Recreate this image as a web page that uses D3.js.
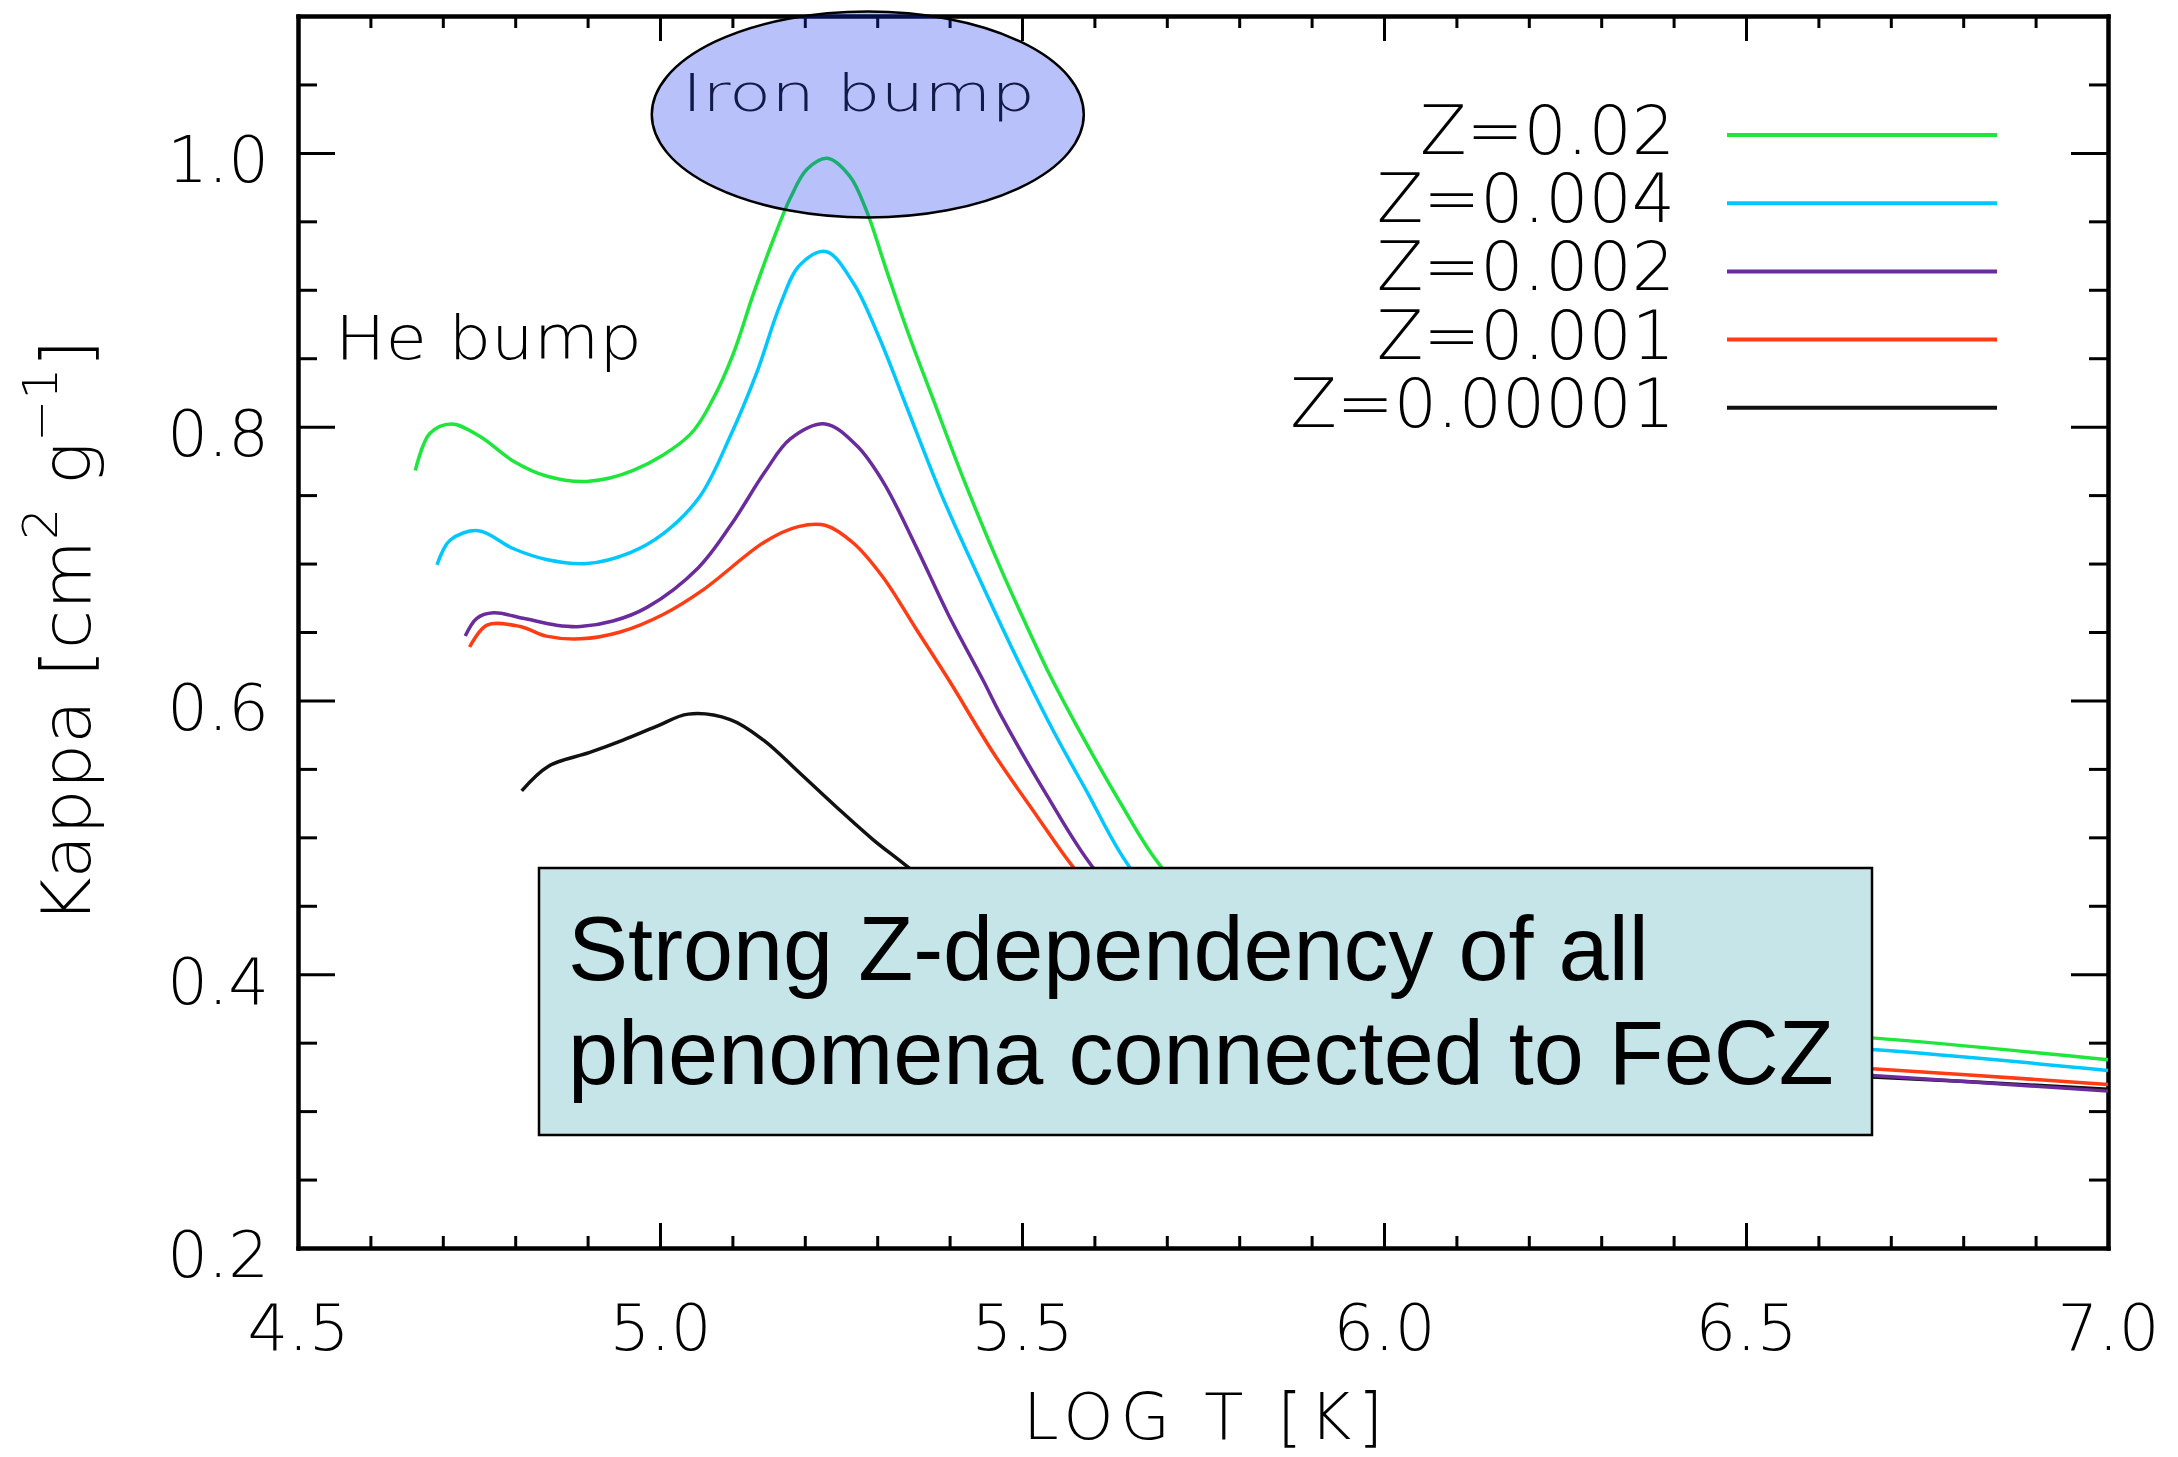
<!DOCTYPE html>
<html>

<head>
    <meta charset="utf-8">
    <style>
        body {
            margin: 0;
            background: #fff;
        }

        svg {
            display: block;
        }

        .axis line {
            stroke: #000;
            stroke-width: 3px;
        }

        .axis .domain {
            stroke: #000;
            stroke-width: 4px;
            stroke-linecap: square;
        }

        .plot-text {
            font-family: 'DejaVu Sans', sans-serif;
            font-weight: 200;
        }
    </style>
</head>

<body>
    <svg width="2178" height="1457"></svg>

    <script src="https://cdn.jsdelivr.net/npm/d3@7"></script>

    <script>
        // values: [log T, kappa]
        let zLabels = ["Z=0.02", "Z=0.004", "Z=0.002", "Z=0.001", "Z=0.00001"]
        let lineColors = ["#1ee63c", "#00c8ff", "#6a2c9c", "#ff3c14", "#111111"]

        let kappaZ02 = [[4.662, 0.768], [4.682, 0.795], [4.712, 0.802], [4.751, 0.793], [4.797, 0.775], [4.843, 0.764],
            [4.899, 0.760], [4.963, 0.768], [5.041, 0.794], [5.074, 0.821], [5.101, 0.853], [5.129, 0.897], [5.156, 0.936],
            [5.180, 0.967], [5.203, 0.988], [5.231, 0.996], [5.262, 0.983], [5.285, 0.958], [5.313, 0.914], [5.341, 0.871],
            [5.378, 0.819], [5.419, 0.762], [5.470, 0.697], [5.506, 0.655], [5.539, 0.618], [5.575, 0.582], [5.635, 0.526],
            [5.693, 0.478], [5.8, 0.425], [5.95, 0.39], [6.15, 0.372], [6.4, 0.362], [6.674, 0.3535], [7.0, 0.3375]]

        let kappaZ004 = [[4.692, 0.699], [4.710, 0.717], [4.749, 0.724], [4.797, 0.711], [4.843, 0.703], [4.899, 0.700],
            [4.959, 0.708], [5.005, 0.722], [5.055, 0.749], [5.097, 0.793], [5.134, 0.840], [5.166, 0.889], [5.193, 0.918],
            [5.229, 0.928], [5.267, 0.905], [5.302, 0.866], [5.341, 0.814], [5.389, 0.750], [5.449, 0.680], [5.501, 0.622],
            [5.545, 0.576], [5.589, 0.534], [5.649, 0.478], [5.75, 0.42], [5.9, 0.385], [6.1, 0.365], [6.4, 0.352],
            [6.674, 0.345], [7.0, 0.3297]]

        let kappaZ002 = [[4.731, 0.647], [4.747, 0.660], [4.770, 0.664], [4.811, 0.660], [4.857, 0.655], [4.890, 0.654],
            [4.935, 0.658], [4.982, 0.668], [5.053, 0.697], [5.099, 0.729], [5.145, 0.767], [5.180, 0.791], [5.228, 0.802],
            [5.272, 0.786], [5.309, 0.759], [5.354, 0.712], [5.398, 0.663], [5.447, 0.614], [5.470, 0.590], [5.534, 0.531],
            [5.598, 0.478], [5.7, 0.42], [5.85, 0.38], [6.05, 0.352], [6.35, 0.336], [6.674, 0.326], [7.0, 0.3146]]

        let kappaZ001 = [[4.737, 0.639], [4.761, 0.655], [4.807, 0.654], [4.843, 0.647], [4.890, 0.645], [4.945, 0.650],
            [5.005, 0.663], [5.060, 0.681], [5.145, 0.716], [5.191, 0.727], [5.228, 0.728], [5.267, 0.715], [5.308, 0.690],
            [5.354, 0.652], [5.400, 0.614], [5.460, 0.562], [5.520, 0.516], [5.571, 0.478], [5.65, 0.43], [5.8, 0.385],
            [6.0, 0.356], [6.3, 0.342], [6.674, 0.331], [7.0, 0.3195]]

        let kappaZ00001 = [[4.809, 0.534], [4.846, 0.552], [4.903, 0.562], [4.949, 0.571], [4.995, 0.581], [5.039, 0.590],
            [5.097, 0.586], [5.143, 0.571], [5.193, 0.547], [5.244, 0.522], [5.295, 0.498], [5.343, 0.478], [5.45, 0.43],
            [5.6, 0.385], [5.8, 0.355], [6.1, 0.338], [6.4, 0.330], [6.674, 0.325], [7.0, 0.316]]

        let xTicks = [4.5, 5.0, 5.5, 6.0, 6.5, 7.0]
        let xTickLabels = ["4.5", "5.0", "5.5", "6.0", "6.5", "7.0"]
        let yTicks = [0.2, 0.4, 0.6, 0.8, 1.0]
        let yTickLabels = ["0.2", "0.4", "0.6", "0.8", "1.0"]

        let series = [kappaZ02, kappaZ004, kappaZ002, kappaZ001, kappaZ00001]

        let width = 2178
        let height = 1457
        let margin = { top: 16, right: 70, bottom: 209, left: 298 }

        let svg = d3.select("svg")

        let x = d3.scaleLinear()
            .domain([4.5, 7.0])
            .range([margin.left, width - margin.right])

        let y = d3.scaleLinear()
            .domain([0.2, 1.1])
            .range([height - margin.bottom, margin.top])

        // minor ticks every 0.1 in x and 0.05 in y
        let xMinor = d3.range(0, 26).filter(i => i % 5 != 0).map(i => 4.5 + i * 0.1)
        let yMinor = d3.range(0, 19).filter(i => i % 4 != 0).map(i => 0.2 + i * 0.05)

        let fontStack = "'DejaVu Sans', sans-serif"

        // bottom axis, ticks point inward
        svg.append("g")
            .attr("class", "axis")
            .attr("transform", `translate(0,${y(0.2)})`)
            .call(d3.axisBottom(x).tickValues(xTicks).tickSize(-25).tickSizeOuter(0).tickPadding(57)
                .tickFormat((d, i) => xTickLabels[i]))
            .attr("font-size", 64)
            .attr("font-family", fontStack)
            .attr("font-weight", 200)

        svg.append("g")
            .attr("class", "axis")
            .attr("transform", `translate(0,${y(0.2)})`)
            .call(d3.axisBottom(x).tickValues(xMinor).tickSize(-12).tickSizeOuter(0).tickFormat(""))

        // top mirror
        svg.append("g")
            .attr("class", "axis")
            .attr("transform", `translate(0,${y(1.1)})`)
            .call(d3.axisTop(x).tickValues(xTicks).tickSize(-25).tickSizeOuter(0).tickFormat(""))

        svg.append("g")
            .attr("class", "axis")
            .attr("transform", `translate(0,${y(1.1)})`)
            .call(d3.axisTop(x).tickValues(xMinor).tickSize(-12).tickSizeOuter(0).tickFormat(""))

        // left axis
        let yAxisLeft = svg.append("g")
            .attr("class", "axis")
            .attr("transform", `translate(${x(4.5)},0)`)
            .call(d3.axisLeft(y).tickValues(yTicks).tickSize(-37).tickSizeOuter(0).tickPadding(29)
                .tickFormat((d, i) => yTickLabels[i]))
            .attr("font-size", 64)
            .attr("font-family", fontStack)
            .attr("font-weight", 200)

        yAxisLeft.selectAll("text").attr("dy", "0.45em")

        svg.append("g")
            .attr("class", "axis")
            .attr("transform", `translate(${x(4.5)},0)`)
            .call(d3.axisLeft(y).tickValues(yMinor).tickSize(-19).tickSizeOuter(0).tickFormat(""))

        // right mirror
        svg.append("g")
            .attr("class", "axis")
            .attr("transform", `translate(${x(7.0)},0)`)
            .call(d3.axisRight(y).tickValues(yTicks).tickSize(-37).tickSizeOuter(0).tickFormat(""))

        svg.append("g")
            .attr("class", "axis")
            .attr("transform", `translate(${x(7.0)},0)`)
            .call(d3.axisRight(y).tickValues(yMinor).tickSize(-19).tickSizeOuter(0).tickFormat(""))

        // axis titles
        svg.append("text")
            .attr("class", "plot-text")
            .attr("x", (x(4.5) + x(7.0)) / 2)
            .attr("y", 1439)
            .attr("text-anchor", "middle")
            .attr("font-size", 64)
            .attr("textLength", 360)
            .attr("lengthAdjust", "spacing")
            .text("LOG T [K]")

        let yTitle = svg.append("text")
            .attr("class", "plot-text")
            .attr("transform", `translate(90,${(y(0.2) + y(1.1)) / 2}) rotate(-90)`)
            .attr("text-anchor", "middle")
            .attr("font-size", 68)
            .attr("textLength", 585)
            .attr("lengthAdjust", "spacingAndGlyphs")

        yTitle.append("tspan").text("Kappa [cm")
        yTitle.append("tspan").attr("font-size", 48).attr("dy", -33).text("2")
        yTitle.append("tspan").attr("dy", 33).text(" g")
        yTitle.append("tspan").attr("font-size", 48).attr("dy", -33).text("\u22121")
        yTitle.append("tspan").attr("dy", 33).text("]")

        // the curves
        let line = d3.line()
            .x(d => x(d[0]))
            .y(d => y(d[1]))
            .curve(d3.curveCatmullRom.alpha(0.5))

        let order = [4, 3, 2, 1, 0]

        svg.append("g")
            .selectAll("path")
            .data(order)
            .join("path")
            .attr("d", i => line(series[i]))
            .style("fill", "none")
            .style("stroke", i => lineColors[i])
            .style("stroke-width", "3.5px")
            .style("stroke-linejoin", "round")

        // He bump label
        svg.append("text")
            .attr("class", "plot-text")
            .attr("x", 335)
            .attr("y", 359)
            .attr("font-size", 60)
            .attr("textLength", 307)
            .attr("lengthAdjust", "spacingAndGlyphs")
            .text("He bump")

        // Iron bump ellipse
        svg.append("ellipse")
            .attr("cx", x(5.287))
            .attr("cy", y(1.028))
            .attr("rx", 216)
            .attr("ry", 103)
            .style("fill", "#1432f0")
            .style("fill-opacity", 0.3)
            .style("stroke", "#000")
            .style("stroke-width", "2.5px")

        svg.append("text")
            .attr("class", "plot-text")
            .attr("x", 682)
            .attr("y", 111)
            .attr("font-size", 52)
            .attr("fill", "#121a48")
            .attr("textLength", 353)
            .attr("lengthAdjust", "spacingAndGlyphs")
            .text("Iron bump")

        // legend
        let legend = svg.append("g")
            .selectAll("g")
            .data(zLabels)
            .join("g")
            .attr("transform", (d, i) => `translate(0,${135 + i * 68.2})`)

        legend.append("line")
            .attr("x1", 1727)
            .attr("x2", 1997)
            .style("stroke", (d, i) => lineColors[i])
            .style("stroke-width", "4px")

        legend.append("text")
            .attr("class", "plot-text")
            .attr("x", 1675)
            .attr("y", 19)
            .attr("text-anchor", "end")
            .attr("font-size", 68)
            .text(d => d)

        // annotation box
        let box = svg.append("g")

        box.append("rect")
            .attr("x", 539)
            .attr("y", 868)
            .attr("width", 1333)
            .attr("height", 267)
            .style("fill", "#c5e5e8")
            .style("stroke", "#000")
            .style("stroke-width", "2.5px")

        box.append("text")
            .attr("x", 568)
            .attr("y", 980)
            .attr("font-family", "'Liberation Sans', Arial, sans-serif")
            .attr("font-size", 90)
            .text("Strong Z-dependency of all")

        box.append("text")
            .attr("x", 568)
            .attr("y", 1084)
            .attr("font-family", "'Liberation Sans', Arial, sans-serif")
            .attr("font-size", 90)
            .text("phenomena connected to FeCZ")
    </script>
</body>

</html>
